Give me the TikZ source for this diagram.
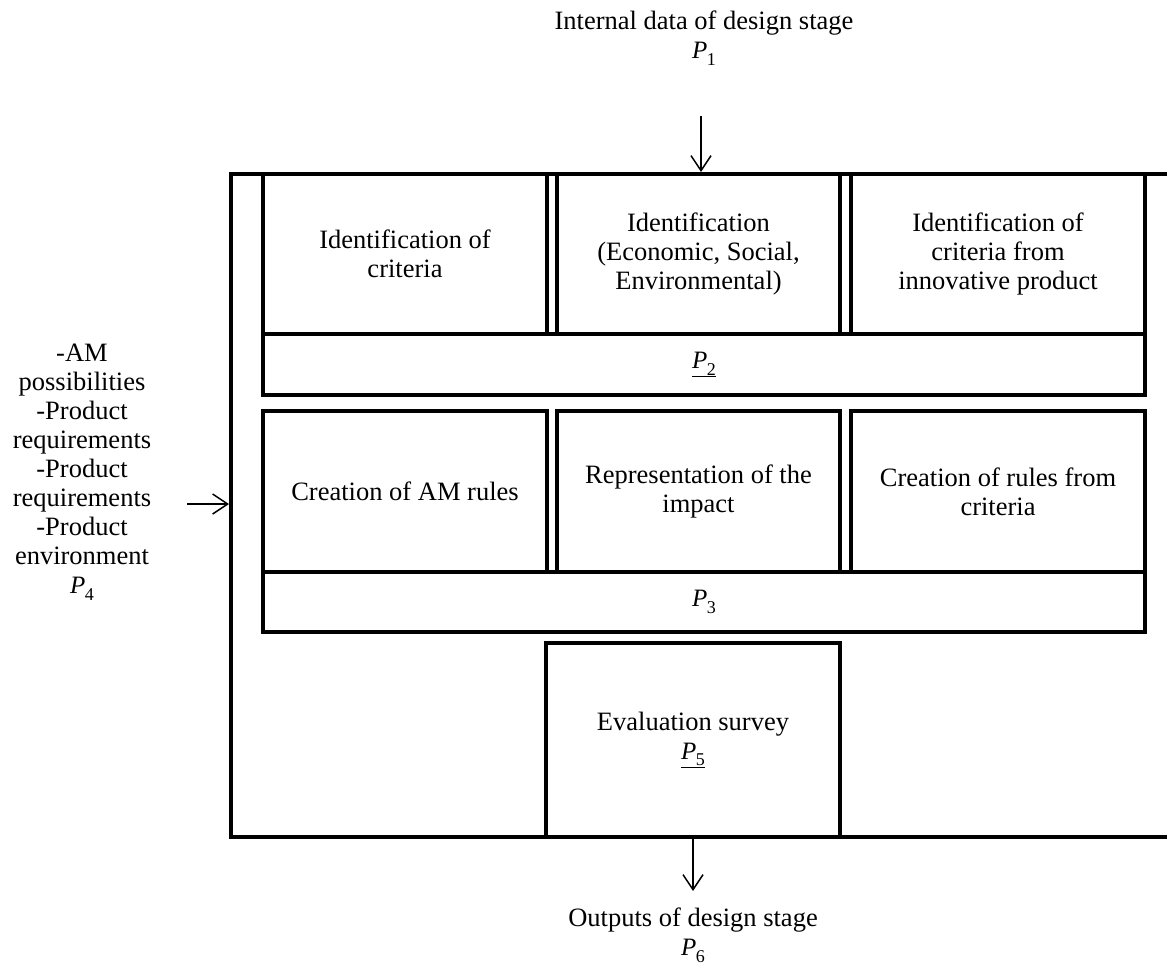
\documentclass[tikz,border=0pt]{standalone}
\usepackage{fontspec}
\setmainfont{Liberation Serif}
\usetikzlibrary{arrows.meta}
\newcommand{\Psub}[1]{{\fontsize{25}{25}\selectfont\textit{P}}\kern-0.02em\raisebox{-0.25em}{\fontsize{18}{18}\selectfont #1}}
\tikzset{
  box/.style={draw, line width=4pt, line join=miter, inner sep=0pt, outer sep=0pt, align=center, font=\fontsize{26.5}{29}\selectfont},
  lbl/.style={inner sep=0pt, align=center, font=\fontsize{26.5}{29}\selectfont},
  arr/.style={line width=1.5pt, -{Straight Barb[length=15pt,width=20pt,line width=1.5pt]}},
  frame/.style={line width=4pt, line join=miter}
}
\begin{document}
\begin{tikzpicture}[x=1pt,y=-1pt]
\useasboundingbox (0,0) rectangle (1167,966);
% outer frame
\coordinate (fTR) at (1167,174);
\coordinate (fTL) at (231,174);
\coordinate (fBL) at (231,837);
\coordinate (fBR) at (1167,837);
\draw[frame] (fTR) -- (fTL) -- (fBL) -- (fBR);
% row 1
\node[box, minimum width=284pt, minimum height=160pt] (a1) at (405,254) {Identification of\\criteria};
\node[box, minimum width=283pt, minimum height=160pt] (b1) at (698.5,254) {Identification\\(Economic, Social,\\Environmental)};
\node[box, minimum width=294pt, minimum height=160pt] (c1) at (998,254) {Identification of\\criteria from\\innovative product};
\node[box, minimum width=882pt, minimum height=61pt] (p2) at (704,364.5) {\underline{\Psub{2}}};
% row 2
\node[box, minimum width=284pt, minimum height=161pt] (a2) at (405,491.5) {Creation of AM rules};
\node[box, minimum width=283pt, minimum height=161pt] (b2) at (698.5,491.5) {Representation of the\\impact};
\node[box, minimum width=294pt, minimum height=161pt] (c2) at (998,491.5) {Creation of rules from\\criteria};
\node[box, minimum width=882pt, minimum height=60pt] (p3) at (704,602) {\Psub{3}};
% evaluation
\node[box, minimum width=294pt, minimum height=194pt] (ev) at (693,740) {Evaluation survey\\\underline{\Psub{5}}};
% texts
\node[lbl] (in1) at (704,38) {Internal data of design stage\\\Psub{1}};
\node[lbl] (out6) at (693,935) {Outputs of design stage\\\Psub{6}};
\node[lbl] (left4) at (82,472) {-AM\\possibilities\\-Product\\requirements\\-Product\\requirements\\-Product\\environment\\\Psub{4}};
% arrows
\coordinate (t1) at (701,116);
\coordinate (t2) at (701,172);
\draw[arr] (t1) -- (t2);
\coordinate (l1) at (187,504);
\coordinate (l2) at (229,504);
\draw[arr] (l1) -- (l2);
\coordinate (b1s) at (693,839);
\coordinate (b1e) at (693,891);
\draw[arr] (b1s) -- (b1e);
\end{tikzpicture}
\end{document}
